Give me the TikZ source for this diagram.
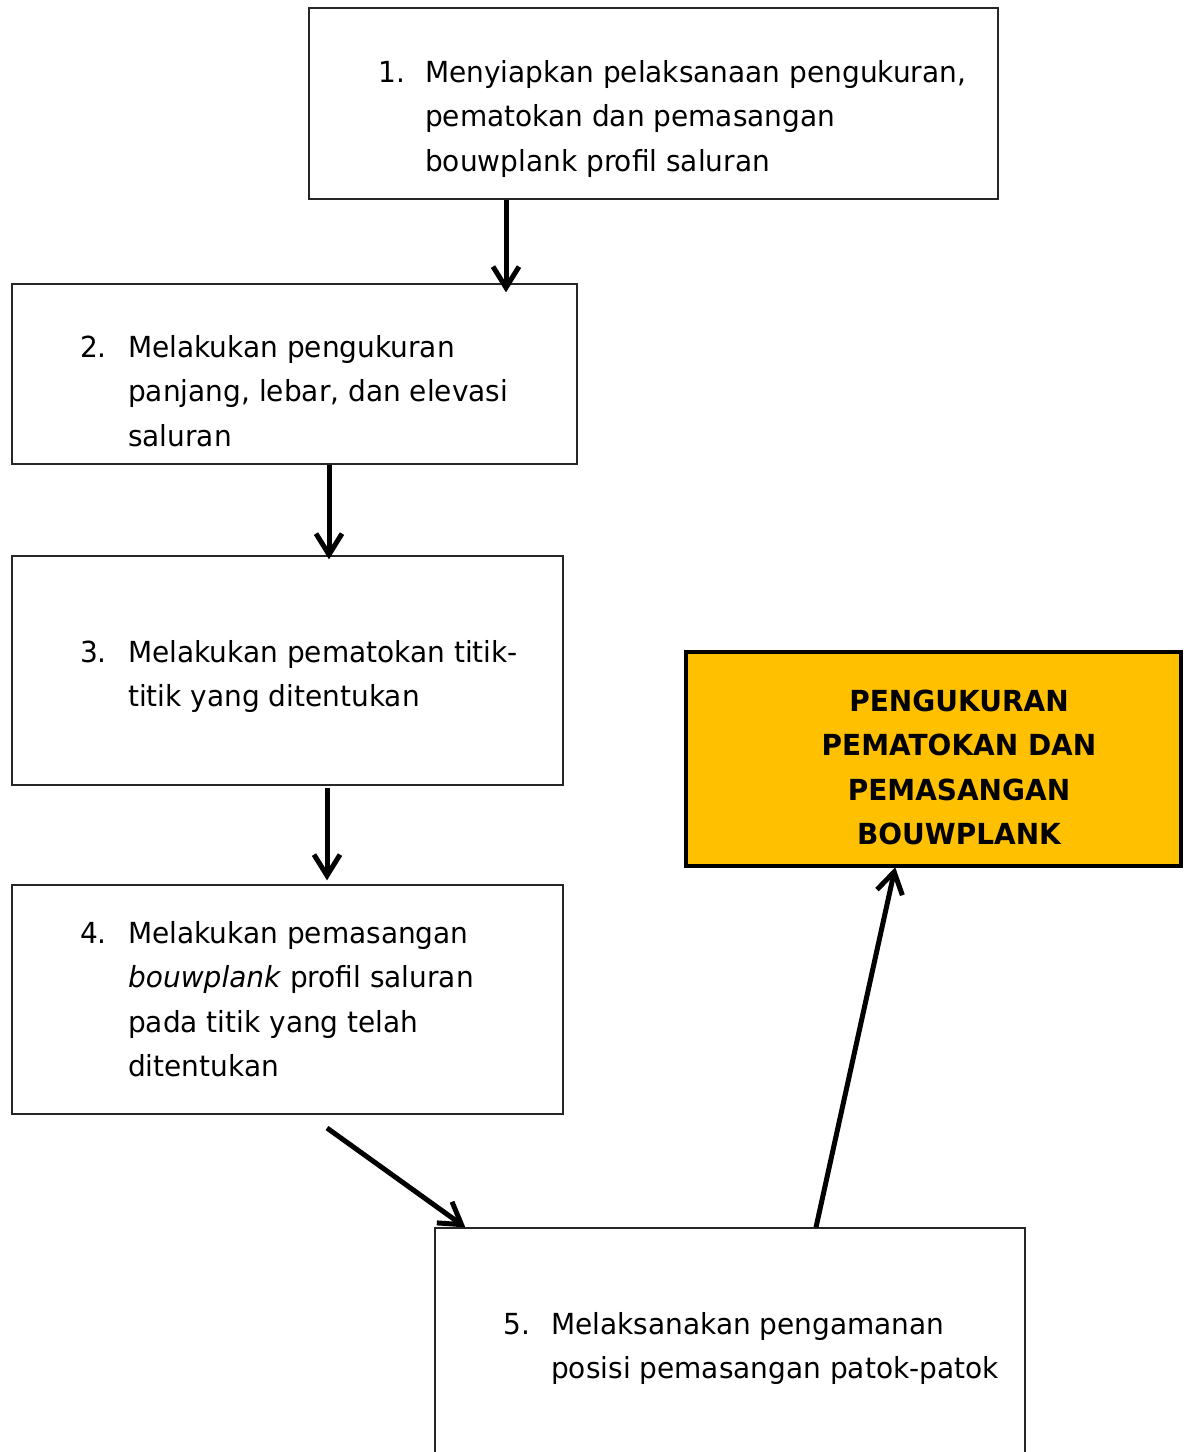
\documentclass[tikz,border=0pt]{standalone}
\usepackage{fontspec}
\setmainfont{DejaVu Sans}[FakeStretch=0.965]
\usetikzlibrary{arrows.meta}
\definecolor{goalyellow}{RGB}{255,192,0}
\begin{document}
\begin{tikzpicture}[x=1pt,y=-1pt,
  stepbox/.style={draw=black!85, line width=1.3pt, fill=white, inner sep=0pt},
  goalbox/.style={draw=black, line width=4.5pt, fill=goalyellow, inner sep=0pt},
  num/.style={anchor=base west, inner sep=0pt, font=\fontsize{29}{44.5}\selectfont},
  txt/.style={anchor=base west, inner sep=0pt, font=\fontsize{29}{44.5}\selectfont},
  goaltxt/.style={anchor=base, inner sep=0pt, font=\fontsize{29}{44.5}\selectfont\bfseries},
  arr/.style={line width=5pt, -{Straight Barb[length=21pt,width=26pt]}},
]
\useasboundingbox (0,0) rectangle (1184,1452);

% boxes
\node[stepbox, minimum width=689pt, minimum height=191pt] (b1) at (653.5,103.5) {};
\node[stepbox, minimum width=565pt, minimum height=180pt] (b2) at (294.5,374) {};
\node[stepbox, minimum width=551pt, minimum height=229pt] (b3) at (287.5,670.5) {};
\node[stepbox, minimum width=551pt, minimum height=229pt] (b4) at (287.5,999.5) {};
\node[stepbox, minimum width=590pt, minimum height=252pt] (b5) at (730,1354) {};
\node[goalbox, minimum width=495pt, minimum height=214pt] (goal) at (933.5,759) {};

% texts
\node[num] (n1) at (378,82) {1.};
\node[txt] (t1) at (425,82) {\vtop{\hbox{Menyiapkan pelaksanaan pengukuran,}\hbox{pematokan dan pemasangan}\hbox{bouwplank profil saluran}}};

\node[num] (n2) at (80,357) {2.};
\node[txt] (t2) at (128,357) {\vtop{\hbox{Melakukan pengukuran}\hbox{panjang, lebar, dan elevasi}\hbox{saluran}}};

\node[num] (n3) at (80,662) {3.};
\node[txt] (t3) at (128,662) {\vtop{\hbox{Melakukan pematokan titik-}\hbox{titik yang ditentukan}}};

\node[num] (n4) at (80,943) {4.};
\node[txt] (t4) at (128,943) {\vtop{\hbox{Melakukan pemasangan}\hbox{\textit{bouwplank} profil saluran}\hbox{pada titik yang telah}\hbox{ditentukan}}};

\node[num] (n5) at (503,1334) {5.};
\node[txt] (t5) at (551,1334) {\vtop{\hbox{Melaksanakan pengamanan}\hbox{posisi pemasangan patok-patok}}};

\node[goaltxt] (tg) at (959,711) {\vtop{\halign{\hfil#\hfil\cr PENGUKURAN\cr PEMATOKAN DAN\cr PEMASANGAN\cr BOUWPLANK\cr}}};

% connectors
\coordinate (a4s) at (327,1128);
\draw[arr, shorten >=-9pt] ([xshift=-147.5pt]b1.south) -- ([xshift=211.5pt]b2.north);
\draw[arr, shorten >=-4pt] ([xshift=34.5pt]b2.south) -- ([xshift=34.5pt]b2.south |- b3.north);
\draw[arr, shorten <=2pt, shorten >=4pt] ([xshift=39.5pt]b3.south) -- ([xshift=39.5pt]b3.south |- b4.north);
\draw[arr] (a4s) -- ([xshift=31pt]b5.north west);
\draw[arr, shorten >=-1pt] ([xshift=86pt]b5.north) -- ([xshift=-38.5pt]goal.south);
\end{tikzpicture}
\end{document}
